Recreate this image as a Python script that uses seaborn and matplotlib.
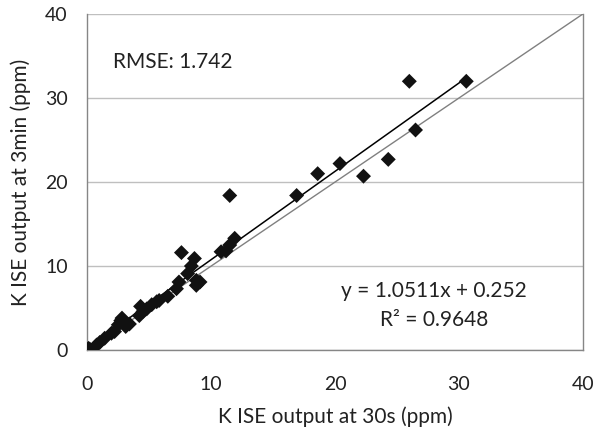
import matplotlib
matplotlib.use("Agg")
import matplotlib.pyplot as plt
import seaborn as sns
import pandas as pd

# Data
x_30s = [0.1, 0.2, 0.75, 1.0, 1.4, 1.95, 2.2, 2.5, 2.7, 2.8, 3.0, 3.1, 3.4,
         4.2, 4.3, 4.5, 4.8, 5.2, 5.6, 5.8, 6.5, 7.2, 7.4, 7.6, 8.1, 8.4,
         8.65, 8.8, 8.8, 9.1, 10.8, 11.2, 11.5, 11.9, 11.5, 16.9, 18.6,
         20.4, 22.3, 24.3, 26.0, 26.5, 30.6]
y_3min = [0.2, 0.1, 0.6, 0.9, 1.4, 2.0, 2.2, 3.0, 3.5, 3.8, 3.4, 2.8, 3.1,
          4.1, 5.2, 4.6, 4.9, 5.4, 5.75, 5.9, 6.4, 7.3, 8.1, 11.6, 9.1, 10.0,
          10.9, 8.3, 7.7, 8.1, 11.7, 11.8, 12.5, 13.3, 18.4, 18.4, 21.0,
          22.2, 20.7, 22.7, 32.0, 26.2, 32.0]
slope = 1.0511
intercept = 0.252
identity = [0, 40]
x_ticks = [0, 10, 20, 30, 40]
y_ticks = [0, 10, 20, 30, 40]

df = pd.DataFrame({"x": x_30s, "y": y_3min})
fit_x = [min(x_30s), max(x_30s)]
fit_y = [slope * v + intercept for v in fit_x]

sns.set_style("white")
plt.rcParams["font.family"] = ["Lato", "DejaVu Sans"]

fig = plt.figure(figsize=(5.94, 4.34), dpi=100)
ax = fig.add_axes([0.147, 0.1935, 0.834, 0.774])

ax.yaxis.grid(True, color="#bfbfbf", linewidth=1.0)
ax.set_axisbelow(True)

sns.lineplot(x=identity, y=identity, ax=ax, color="#808080", linewidth=1.0)
sns.lineplot(x=fit_x, y=fit_y, ax=ax, color="#000000", linewidth=1.1)
sns.scatterplot(data=df, x="x", y="y", ax=ax, marker="D", s=58,
                color="#111111", edgecolor="none", zorder=5)

ax.set_xlim(0, 40)
ax.set_ylim(0, 40)
ax.set_xticks(x_ticks)
ax.set_yticks(y_ticks)
ax.tick_params(axis="both", direction="out", length=6, width=1,
               color="#868686", labelsize=14, colors="#222222", pad=8)
ax.tick_params(axis="x", pad=13)
for side in ["left", "bottom", "right"]:
    ax.spines[side].set_color("#868686")
    ax.spines[side].set_linewidth(1.0)
ax.spines["top"].set_visible(False)

ax.set_xlabel("K ISE output at 30s (ppm)", fontsize=15, color="#222222", labelpad=9)
ax.set_ylabel("K ISE output at 3min (ppm)", fontsize=15, color="#222222", labelpad=10)

ax.text(2.1, 34.3, "RMSE: 1.742", fontsize=15, color="#222222", va="center", ha="left")
ax.text(28.0, 7.0, "y = 1.0511x + 0.252", fontsize=15, color="#222222", va="center", ha="center")
ax.text(28.0, 3.6, "R\u00b2 = 0.9648", fontsize=15, color="#222222", va="center", ha="center")

fig.savefig("out.png", dpi=100)
